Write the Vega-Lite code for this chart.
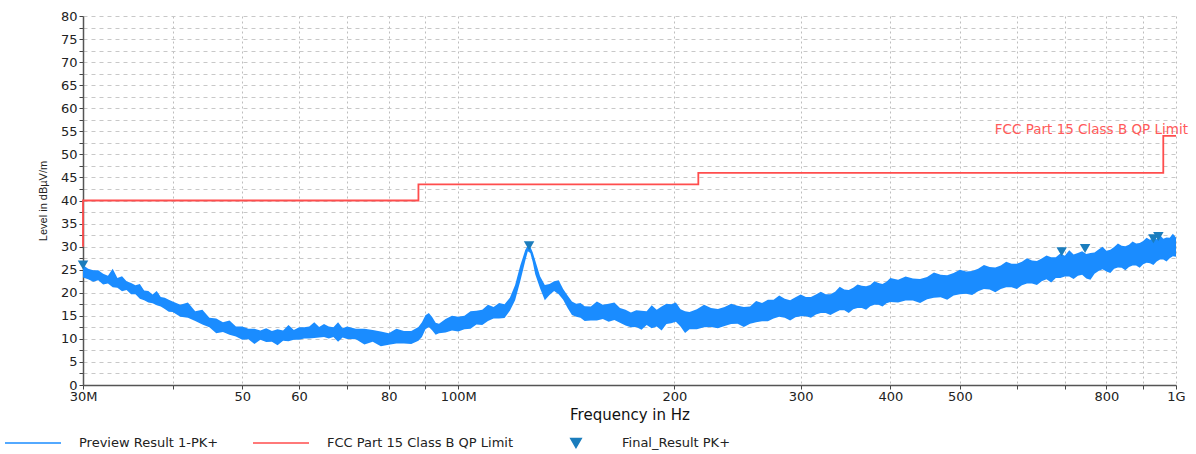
{
  "$schema": "https://vega.github.io/schema/vega-lite/v6.json",
  "width": 1093,
  "height": 369,
  "autosize": {"type": "none"},
  "padding": {"left": 83, "top": 16, "right": 20, "bottom": 69},
  "background": "white",
  "config": {"view": {"stroke": null}, "font": "DejaVu Sans"},
  "datasets": {
    "trace": [
      {"f":30,"v":23.3,"v2":26.0},{"f":30.5,"v":22.9,"v2":25.2},{"f":31,"v":22.4,"v2":24.9},{"f":31.5,"v":22.7,"v2":24.9},{"f":32,"v":21.8,"v2":24.1},{"f":32.5,"v":22.0,"v2":23.7},{"f":33,"v":21.2,"v2":25.2},{"f":33.5,"v":21.1,"v2":23.2},{"f":34,"v":20.3,"v2":23.6},{"f":34.5,"v":20.6,"v2":22.5},{"f":35,"v":19.7,"v2":22.1},{"f":35.5,"v":19.7,"v2":21.6},{"f":36,"v":18.7,"v2":21.9},{"f":36.5,"v":18.4,"v2":20.5},{"f":37,"v":17.9,"v2":20.4},{"f":37.5,"v":17.7,"v2":19.6},{"f":38,"v":17.3,"v2":20.4},{"f":38.5,"v":17.0,"v2":19.1},{"f":39,"v":16.5,"v2":18.9},{"f":39.5,"v":15.9,"v2":18.5},{"f":40,"v":15.8,"v2":18.1},
      {"f":41,"v":14.8,"v2":17.4},{"f":42,"v":14.6,"v2":17.9},{"f":43,"v":13.9,"v2":16.0},{"f":44,"v":13.1,"v2":16.3},{"f":45,"v":12.5,"v2":14.6},{"f":46,"v":11.2,"v2":14.4},{"f":47,"v":11.5,"v2":13.6},{"f":48,"v":10.9,"v2":14.0},{"f":49,"v":10.5,"v2":12.7},{"f":50,"v":9.8,"v2":12.7},{"f":51,"v":9.9,"v2":12.2},{"f":52,"v":8.9,"v2":12.2},{"f":53,"v":9.8,"v2":11.8},{"f":54,"v":9.3,"v2":12.3},{"f":55,"v":9.4,"v2":11.7},{"f":56,"v":8.6,"v2":12.1},{"f":57,"v":9.6,"v2":11.8},{"f":58,"v":9.5,"v2":13.0},{"f":59,"v":9.8,"v2":11.9},{"f":60,"v":9.8,"v2":12.5},{"f":61,"v":10.1,"v2":12.5},{"f":62,"v":10.1,"v2":12.7},{"f":63,"v":10.2,"v2":13.6},{"f":64,"v":10.3,"v2":12.6},{"f":65,"v":10.4,"v2":13.2},{"f":66,"v":10.1,"v2":12.7},{"f":67,"v":10.4,"v2":12.5},{"f":68,"v":9.4,"v2":13.6},{"f":69,"v":10.3,"v2":12.3},{"f":70,"v":10.0,"v2":12.7},
      {"f":72,"v":9.9,"v2":12.2},{"f":74,"v":8.8,"v2":12.2},{"f":76,"v":9.4,"v2":11.9},{"f":78,"v":8.4,"v2":11.6},{"f":80,"v":8.7,"v2":11.2},{"f":82,"v":9.0,"v2":12.2},{"f":84,"v":9.0,"v2":11.7},{"f":86,"v":8.9,"v2":11.7},{"f":88,"v":9.6,"v2":12.6},{"f":89,"v":10.4,"v2":13.6},{"f":90,"v":12.1,"v2":15.1},{"f":91,"v":12.6,"v2":15.6},{"f":92,"v":11.8,"v2":14.7},{"f":93,"v":10.9,"v2":13.5},{"f":94,"v":11.2,"v2":13.3},{"f":96,"v":11.4,"v2":14.3},{"f":98,"v":11.8,"v2":15.0},{"f":100,"v":11.6,"v2":14.8},
      {"f":102,"v":12.1,"v2":15.0},{"f":104,"v":12.2,"v2":16.0},{"f":106,"v":13.1,"v2":16.1},{"f":108,"v":13.0,"v2":16.3},{"f":110,"v":13.9,"v2":17.4},{"f":112,"v":14.4,"v2":16.9},{"f":114,"v":14.4,"v2":17.8},{"f":116,"v":14.5,"v2":17.5},{"f":118,"v":16.1,"v2":18.9},{"f":120,"v":18.4,"v2":21.7},{"f":122,"v":22.5,"v2":25.9},{"f":124,"v":27.0,"v2":29.3},{"f":125,"v":29.0,"v2":30.2},{"f":126,"v":28.6,"v2":30.0},{"f":127,"v":26.6,"v2":28.7},{"f":128,"v":24.0,"v2":27.0},{"f":130,"v":21.0,"v2":23.6},{"f":132,"v":18.4,"v2":21.7},{"f":134,"v":19.5,"v2":21.9},{"f":136,"v":20.4,"v2":22.5},{"f":138,"v":19.7,"v2":22.7},{"f":140,"v":18.5,"v2":20.8},{"f":142,"v":16.7,"v2":19.4},{"f":144,"v":15.2,"v2":18.1},{"f":146,"v":14.8,"v2":17.6},{"f":148,"v":14.6,"v2":17.8},{"f":150,"v":13.9,"v2":17.1},
      {"f":153,"v":14.0,"v2":17.0},{"f":156,"v":14.0,"v2":18.1},{"f":159,"v":14.3,"v2":17.4},{"f":162,"v":13.7,"v2":17.6},{"f":165,"v":14.1,"v2":17.9},{"f":168,"v":13.5,"v2":16.7},{"f":171,"v":12.9,"v2":16.3},{"f":174,"v":12.5,"v2":15.7},{"f":177,"v":12.6,"v2":16.2},{"f":180,"v":12.0,"v2":16.1},{"f":183,"v":13.0,"v2":16.0},{"f":186,"v":12.3,"v2":17.3},{"f":189,"v":12.7,"v2":16.3},{"f":192,"v":11.8,"v2":17.0},{"f":195,"v":13.2,"v2":17.6},{"f":198,"v":13.4,"v2":17.5},{"f":201,"v":13.7,"v2":17.9},{"f":204,"v":12.7,"v2":16.4},{"f":207,"v":11.3,"v2":16.0},{"f":210,"v":12.1,"v2":15.8},
      {"f":215,"v":12.1,"v2":16.4},{"f":220,"v":12.5,"v2":17.4},{"f":225,"v":12.6,"v2":16.7},{"f":230,"v":12.3,"v2":16.5},{"f":235,"v":12.8,"v2":16.9},{"f":240,"v":13.2,"v2":17.6},{"f":245,"v":13.3,"v2":17.2},{"f":250,"v":12.6,"v2":16.9},{"f":255,"v":13.3,"v2":17.0},{"f":260,"v":13.6,"v2":18.2},{"f":265,"v":13.8,"v2":17.8},{"f":270,"v":13.8,"v2":18.5},{"f":275,"v":14.4,"v2":18.5},{"f":280,"v":14.8,"v2":19.4},{"f":285,"v":14.6,"v2":18.7},{"f":290,"v":14.0,"v2":18.4},{"f":295,"v":14.7,"v2":19.0},{"f":300,"v":14.9,"v2":19.6},{"f":305,"v":14.9,"v2":19.1},{"f":310,"v":14.6,"v2":19.1},{"f":315,"v":15.3,"v2":19.6},{"f":320,"v":15.6,"v2":20.2},{"f":325,"v":15.6,"v2":19.7},{"f":330,"v":15.2,"v2":19.7},{"f":335,"v":15.7,"v2":20.2},{"f":340,"v":16.2,"v2":21.3},{"f":345,"v":16.2,"v2":20.7},{"f":350,"v":15.6,"v2":20.6},{"f":355,"v":16.4,"v2":21.1},{"f":360,"v":16.7,"v2":21.8},{"f":365,"v":16.7,"v2":21.5},{"f":370,"v":16.3,"v2":21.4},{"f":375,"v":17.1,"v2":21.7},{"f":380,"v":17.4,"v2":22.5},{"f":385,"v":17.4,"v2":22.1},{"f":390,"v":17.0,"v2":21.9},{"f":395,"v":17.7,"v2":22.4},{"f":400,"v":18.0,"v2":23.2},
      {"f":410,"v":17.9,"v2":22.8},{"f":420,"v":18.3,"v2":23.5},{"f":430,"v":18.3,"v2":23.1},{"f":440,"v":17.8,"v2":23.0},{"f":450,"v":18.6,"v2":23.4},{"f":460,"v":18.9,"v2":24.4},{"f":470,"v":19.0,"v2":23.9},{"f":480,"v":18.5,"v2":23.8},{"f":490,"v":19.4,"v2":24.3},{"f":500,"v":19.7,"v2":25.0},{"f":510,"v":19.8,"v2":24.6},{"f":520,"v":19.5,"v2":24.7},{"f":530,"v":20.3,"v2":25.2},{"f":540,"v":20.8,"v2":26.0},{"f":550,"v":20.7,"v2":25.6},{"f":560,"v":20.1,"v2":25.5},{"f":570,"v":20.8,"v2":25.9},{"f":580,"v":21.2,"v2":26.7},{"f":590,"v":21.2,"v2":26.3},{"f":600,"v":20.8,"v2":26.3},{"f":610,"v":21.6,"v2":26.7},{"f":620,"v":22.0,"v2":27.5},{"f":630,"v":22.0,"v2":27.0},{"f":640,"v":21.7,"v2":26.9},{"f":650,"v":22.5,"v2":27.4},{"f":660,"v":22.9,"v2":28.1},{"f":670,"v":22.2,"v2":27.7},{"f":680,"v":23.2,"v2":27.7},{"f":690,"v":23.2,"v2":28.5},{"f":700,"v":23.5,"v2":28.0},{"f":710,"v":23.5,"v2":29.2},{"f":720,"v":23.0,"v2":28.3},{"f":730,"v":23.7,"v2":28.6},{"f":740,"v":23.9,"v2":29.0},{"f":750,"v":23.1,"v2":28.4},{"f":760,"v":22.8,"v2":28.6},{"f":770,"v":24.1,"v2":28.7},{"f":780,"v":24.7,"v2":29.4},{"f":790,"v":25.1,"v2":30.0},{"f":800,"v":24.6,"v2":29.1},{"f":810,"v":24.3,"v2":29.3},{"f":820,"v":25.2,"v2":29.9},{"f":830,"v":25.5,"v2":30.7},{"f":840,"v":25.4,"v2":30.2},{"f":850,"v":24.9,"v2":30.1},{"f":860,"v":25.6,"v2":30.4},{"f":870,"v":25.9,"v2":31.1},{"f":880,"v":25.9,"v2":30.7},{"f":890,"v":25.4,"v2":30.8},{"f":900,"v":26.2,"v2":31.2},{"f":910,"v":26.5,"v2":31.9},{"f":920,"v":26.4,"v2":31.5},{"f":930,"v":26.0,"v2":31.8},{"f":940,"v":26.8,"v2":31.6},{"f":950,"v":27.2,"v2":32.5},{"f":960,"v":27.2,"v2":31.7},{"f":970,"v":26.8,"v2":32.0},{"f":980,"v":27.5,"v2":31.9},{"f":990,"v":27.9,"v2":32.8},{"f":1000,"v":27.8,"v2":32.0}
    ],
    "limit": [
      {"i":0,"f":30,"v":30},{"i":1,"f":30,"v":40},{"i":2,"f":88,"v":40},{"i":3,"f":88,"v":43.5},{"i":4,"f":216,"v":43.5},{"i":5,"f":216,"v":46},{"i":6,"f":960,"v":46},{"i":7,"f":960,"v":54},{"i":8,"f":1000,"v":54}
    ],
    "limitLabel": [{"f":1000,"v":54,"t":"FCC Part 15 Class B QP Limit"}],
    "finals": [
      {"f":30,"v":26.0},{"f":125.5,"v":30.2},{"f":693,"v":28.9},{"f":747,"v":29.6},{"f":930,"v":31.7},{"f":945,"v":32.2}
    ]
  },
  "encoding": {
    "x": {
      "field": "f", "type": "quantitative",
      "scale": {"type": "log", "domain": [30, 1000], "nice": false},
      "axis": {
        "title": "Frequency in Hz",
        "values": [30,40,50,60,70,80,90,100,200,300,400,500,600,700,800,900,1000],
        "labelExpr": "datum.value == 30 ? '30M' : datum.value == 100 ? '100M' : datum.value == 1000 ? '1G' : indexof([50,60,80,200,300,400,500,800], datum.value) >= 0 ? format(datum.value, 'd') : ''",
        "labelOverlap": false, "labelFlush": false,
        "grid": true, "gridDash": [2, 3], "gridColor": "#bdbdbd", "gridWidth": 1,
        "tickSize": 4, "tickColor": "#444", "tickWidth": 1,
        "domainColor": "#555", "domainWidth": 1.5,
        "labelFont": "DejaVu Sans", "labelFontSize": 13, "labelColor": "#222", "labelPadding": 1,
        "titleFont": "DejaVu Sans", "titleFontSize": 15, "titleFontWeight": "normal", "titleColor": "#111", "titlePadding": 4
      }
    },
    "y": {
      "field": "v", "type": "quantitative",
      "scale": {"domain": [0, 80], "nice": false, "zero": false},
      "axis": {
        "title": "Level in dBµV/m",
        "values": [0,2.5,5,7.5,10,12.5,15,17.5,20,22.5,25,27.5,30,32.5,35,37.5,40,42.5,45,47.5,50,52.5,55,57.5,60,62.5,65,67.5,70,72.5,75,77.5,80],
        "labelExpr": "datum.value % 5 === 0 ? format(datum.value, 'd') : ''",
        "labelOverlap": false, "labelFlush": false,
        "grid": true, "gridDash": [4, 4], "gridColor": "#c8c8c8", "gridWidth": 1,
        "tickSize": 4, "tickColor": "#444",
        "domainColor": "#555", "domainWidth": 1.5,
        "labelFont": "DejaVu Sans", "labelFontSize": 13, "labelColor": "#222", "labelPadding": 2,
        "titleFont": "Liberation Sans", "titleFontSize": 11, "titleFontWeight": "normal", "titleColor": "#222", "titlePadding": 12
      }
    }
  },
  "layer": [
    {
      "data": {"name": "trace"},
      "mark": {"type": "area", "color": "#1a8cff", "opacity": 1},
      "encoding": {
        "y2": {"field": "v2"},
        "color": {
          "datum": "Preview Result 1-PK+",
          "scale": {"domain": ["Preview Result 1-PK+", "FCC Part 15 Class B QP Limit", "Final_Result PK+"], "range": ["#1a8cff", "#ff4d4d", "#1b7dbd"]},
          "legend": {
            "title": null, "orient": "none", "direction": "horizontal", "columns": 3, "clipHeight": 16,
            "legendX": -79, "legendY": 419,
            "symbolStrokeWidth": 1.5, "labelOffset": 17, "columnPadding": 33,
            "labelFont": "DejaVu Sans", "labelFontSize": 13, "labelColor": "#222", "labelLimit": 400
          }
        }
      }
    },
    {
      "data": {"name": "limit"},
      "mark": {"type": "line", "strokeWidth": 1.8},
      "encoding": {
        "order": {"field": "i", "type": "quantitative"},
        "color": {"datum": "FCC Part 15 Class B QP Limit"}
      }
    },
    {
      "data": {"name": "limitLabel"},
      "mark": {"type": "text", "align": "right", "baseline": "alphabetic", "dx": 12, "dy": -2, "color": "#ff5a5a", "font": "DejaVu Sans", "fontSize": 13.5},
      "encoding": {
        "text": {"field": "t"}
      }
    },
    {
      "data": {"name": "finals"},
      "mark": {"type": "point", "filled": true, "opacity": 1},
      "encoding": {
        "color": {"datum": "Final_Result PK+"},
        "shape": {
          "datum": "Final_Result PK+", "type": "nominal",
          "scale": {"domain": ["Preview Result 1-PK+", "FCC Part 15 Class B QP Limit", "Final_Result PK+"], "range": ["stroke", "stroke", "triangle-down"]}
        },
        "size": {
          "datum": "Final_Result PK+", "type": "ordinal",
          "scale": {"type": "ordinal", "domain": ["Preview Result 1-PK+", "FCC Part 15 Class B QP Limit", "Final_Result PK+"], "range": [3136, 3136, 110]}
        }
      }
    }
  ]
}
